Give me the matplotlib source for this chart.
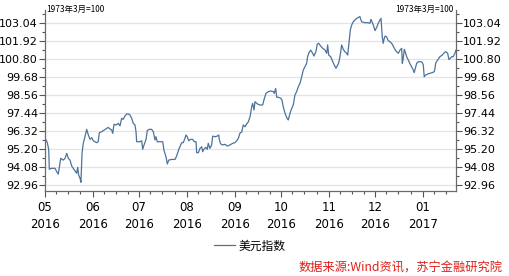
import matplotlib
matplotlib.use('Agg')
import matplotlib.pyplot as plt
import matplotlib.dates as mdates
from matplotlib.ticker import MultipleLocator, AutoMinorLocator, FormatStrFormatter
import numpy as np
import pandas as pd

#data: days since 2016-05-01, index value (1973年3月=100)
days = [0.65, 1.5, 2.4, 2.8, 4.3, 6.5, 7.6, 8.6, 10.2, 11.9, 13.0, 14.1, 15.1, 16.2, 17.3, 18.3,
        19.4, 20.5, 21.2, 21.8, 22.7, 23.3, 24.0, 24.8, 25.9, 27.0, 28.1, 29.2, 30.3, 31.3, 33.5,
        34.5, 35.2, 36.7, 37.8, 40.0, 41.0, 42.1, 43.2, 43.9, 44.7, 46.0, 47.5, 48.6, 49.7, 50.7,
        51.8, 52.9, 54.0, 55.1, 56.2, 57.2, 58.3, 59.0, 59.4, 60.5, 61.6,
        62.7, 63.3, 64.2, 65.5, 66.3, 67.6, 69.1, 70.2, 71.3, 71.9, 72.8, 74.5, 76.3, 77.1, 78.4,
        79.3, 80.2, 82.1, 84.3, 85.3, 87.0, 88.6, 89.6, 90.7, 91.4, 92.2, 93.1, 94.4, 95.7, 96.8,
        97.9, 98.3, 99.4, 100.5, 101.6, 102.2, 103.0, 104.3, 105.2, 105.8, 106.9, 108.0, 108.7,
        110.2, 111.7, 112.6, 113.0, 113.9, 115.2, 116.7, 118.2, 119.9, 121.6, 123.1, 124.2, 125.3,
        126.4, 127.5, 128.5, 129.6, 130.7, 131.8, 132.9, 134.0, 134.6, 135.5, 136.1, 137.2, 138.2,
        139.3, 141.1, 141.9, 143.2, 144.7, 146.3, 148.0, 148.6, 149.5, 150.2, 151.2, 152.8, 153.6,
        154.4, 155.5, 156.6, 157.7, 158.8, 159.9, 160.9, 162.0, 163.1, 164.2, 165.3, 166.4, 167.4,
        168.5, 169.6, 170.2, 171.1, 172.2, 173.5, 174.3, 175.6, 176.5, 177.4, 178.7, 180.0, 181.5,
        182.6, 183.2, 183.9, 185.2, 186.5, 187.5, 188.6, 189.4, 190.3, 191.2, 192.3, 193.3,
        194.4, 195.5, 196.2, 197.0, 197.9, 198.8, 199.8, 200.9, 202.0, 203.1, 204.1, 205.2, 207.4,
        209.5, 210.6, 211.3, 212.8, 213.9, 215.0, 216.0, 217.1, 217.8, 218.6, 219.2, 219.9, 220.4,
        221.4, 222.5, 223.6, 224.7, 225.7, 226.8, 227.9, 229.0, 230.1, 231.2, 231.6, 232.2, 232.9,
        233.8, 234.4, 235.5, 236.6, 237.6, 238.7, 239.3, 240.3, 240.9, 241.9, 243.7, 244.6, 245.2,
        245.8, 246.7, 248.0, 249.5, 251.0, 252.3, 252.8, 253.2, 254.5, 256.0, 257.5, 258.8, 259.7,
        261.0, 261.8, 262.7, 263.6, 264.6, 265.7, 266.4]
values = [95.76, 95.59, 95.18, 93.94, 94.00, 94.00, 93.79, 93.64, 94.62, 94.51, 94.62, 94.93, 94.62,
          94.51, 94.14, 94.00, 93.85, 93.69, 94.06, 93.58, 93.38, 93.13, 94.93, 95.55, 95.96, 96.42,
          96.07, 95.80, 95.90, 95.71, 95.59, 95.65, 96.21, 96.27, 96.34, 96.48, 96.54, 96.44, 96.38,
          96.17, 96.73, 96.69, 96.79, 96.63, 97.10, 97.04, 97.25, 97.37, 97.37, 97.31, 97.10, 96.79,
          96.69, 96.27, 95.65, 95.65, 95.65,
          95.71, 95.18, 95.45, 95.80, 96.34, 96.42, 96.42, 96.27, 95.76, 95.96, 95.65, 95.65, 95.65,
          95.13, 94.72, 94.27, 94.51, 94.55, 94.55, 94.76, 95.24, 95.59, 95.59, 95.86, 96.07, 95.96,
          95.71, 95.80, 95.80, 95.65, 95.65, 94.97, 94.97, 95.24, 95.34, 95.03, 95.18, 95.30, 95.18,
          95.55, 95.24, 95.45, 96.00, 95.96, 96.00, 96.07, 95.76, 95.51, 95.45, 95.49, 95.38, 95.45,
          95.55, 95.59, 95.71, 95.86,
          96.19, 96.25, 96.69, 96.58, 96.75, 96.89, 97.20, 97.83, 98.03, 97.62, 98.14, 98.03, 97.97,
          97.93, 97.93, 98.24, 98.65, 98.76, 98.80, 98.76, 98.65, 98.96, 98.41, 98.41, 98.35, 98.24,
          97.83, 97.45, 97.16, 97.00, 97.41, 97.72, 97.93, 98.55, 98.76, 99.07, 99.28, 99.69, 100.10,
          100.31, 100.52, 100.93, 101.18, 101.34, 101.14, 100.97, 101.24, 101.72, 101.76, 101.59,
          101.45, 101.34, 101.14, 101.66, 101.03, 100.93, 100.62, 100.41, 100.21, 100.35, 100.52,
          100.93, 101.66, 101.39,
          101.24, 101.14, 101.03, 101.76, 102.59, 102.90, 103.10, 103.21, 103.31, 103.37, 103.42,
          103.10, 103.04, 103.04, 103.00, 103.25, 102.90, 102.55, 102.75, 103.00, 103.21, 103.31,
          102.17, 101.76, 102.07, 102.21, 102.17, 101.92, 101.86, 101.76, 101.59, 101.38, 101.24,
          101.14, 101.34, 101.45, 100.52, 100.83, 101.39, 101.14, 100.93, 100.72, 100.48, 100.31,
          100.10, 99.94, 100.31, 100.52, 100.62, 100.62, 100.56, 100.41, 99.69, 99.79, 99.85, 99.90,
          99.94, 100.00, 100.21, 100.52, 100.72, 100.93, 101.03, 101.18, 101.24, 101.14, 100.76,
          100.83, 100.93, 100.93, 101.14, 101.34]

tick_months = ['05', '06', '07', '08', '09', '10', '11', '12', '01']
tick_years = ['2016', '2016', '2016', '2016', '2016', '2016', '2016', '2016', '2017']
series_name = '美元指数'
base_note = '1973年3月=100'
source_note = '数据来源:Wind资讯，苏宁金融研究院'

start = pd.Timestamp('2016-05-01')
dates = start + pd.to_timedelta(np.array(days), unit='D')
tick_dates = [pd.Timestamp(('2017' if m == '01' else '2016') + '-' + m + '-01') for m in tick_months]

plt.rcParams['font.family'] = ['DejaVu Sans', 'Noto Sans CJK SC']

fig = plt.figure(figsize=(5.09, 2.76), dpi=100)
ax = fig.add_axes([45/509, 1-191/276, 411/509, 181/276])

line_c = '#4d729c'
ax.plot(dates, values, color=line_c, lw=0.9, label=series_name)

ax.set_xlim(start, start + pd.Timedelta(days=266.4))
ax.set_ylim(92.59, 103.83)

#y axis, both sides
ax.yaxis.set_major_locator(MultipleLocator(1.12))
ax.yaxis.set_minor_locator(AutoMinorLocator(2))
ax.yaxis.set_major_formatter(FormatStrFormatter('%.2f'))
ax.tick_params(axis='y', which='both', left=True, right=True, labelleft=True, labelright=True,
               direction='out', colors='#555555', labelcolor='black', labelsize=8, pad=1)
ax.tick_params(axis='y', which='major', length=4, width=0.8)
ax.tick_params(axis='y', which='minor', length=2, width=0.8)

#x axis
ax.set_xticks(tick_dates)
ax.set_xticklabels([m + '\n' + y for m, y in zip(tick_months, tick_years)], linespacing=1.45)
ax.xaxis.set_minor_locator(mdates.DayLocator(bymonthday=[8, 16, 24]))
ax.tick_params(axis='x', which='both', direction='out', colors='#555555', labelcolor='black',
               labelsize=8.5, pad=3)
ax.tick_params(axis='x', which='major', length=4, width=0.8)
ax.tick_params(axis='x', which='minor', length=2, width=0.8)

ax.grid(axis='y', color='#e4e4e4', lw=0.9)
ax.set_axisbelow(True)
ax.spines['top'].set_visible(False)
for s in ['left', 'right', 'bottom']:
    ax.spines[s].set_color('#6a6a6a')
    ax.spines[s].set_linewidth(0.9)

cjk = ['Noto Sans CJK SC', 'DejaVu Sans']
ax.text(0.004, 1.003, base_note, transform=ax.transAxes, ha='left', va='center',
        fontsize=6, family=cjk)
ax.text(0.993, 1.003, base_note, transform=ax.transAxes, ha='right', va='center',
        fontsize=6, family=cjk)

leg = fig.legend(loc='center', bbox_to_anchor=(250/509, 1-246/276), frameon=False,
                 prop={'family': cjk, 'size': 8.5}, handlelength=1.8, handletextpad=0.3)

fig.text(503/509, 1-268/276, source_note, ha='right', va='center', color='#e0201b',
         fontsize=8.8, family=cjk, style='italic')

fig.savefig('out.png', dpi=100)
